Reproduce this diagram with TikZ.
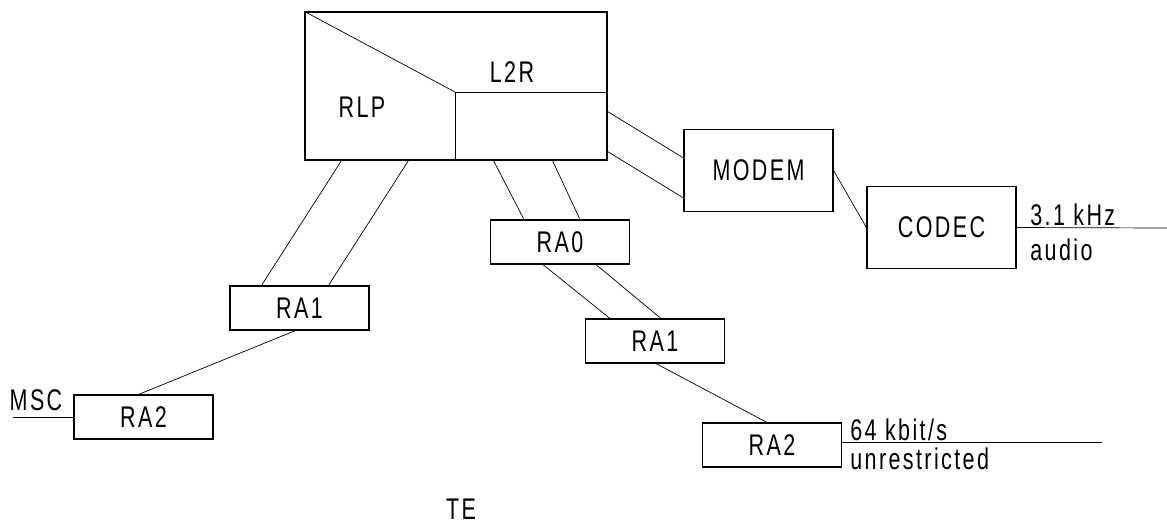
\documentclass[tikz,border=0pt]{standalone}
\usepackage{fontspec}
\setmainfont{Liberation Sans}[FakeStretch=0.72, LetterSpace=8]
\usepackage{tikz}
\usetikzlibrary{positioning}

\begin{document}
\begin{tikzpicture}[
		x=0.2mm, y=-0.2mm,
		every node/.style={font=\fontsize{17}{19}\selectfont},
		unit/.style={rectangle, draw, line width=0.6pt, minimum width=27.8mm, minimum height=8.8mm, inner sep=0pt},
		bigunit/.style={unit, minimum width=29.8mm, minimum height=16.4mm},
		tag/.style={inner sep=0pt},
		wire/.style={line width=0.4pt}
	]
  \useasboundingbox (0,0) rectangle (1167,524);
  \node (top) [unit, minimum width=60.4mm, minimum height=29.6mm] at (456, 86) {};
  \coordinate (mid) at (455, 92);
  \node (rlp) [tag] at (362, 107) {RLP};
  \node (l2r) [tag] at (512, 72) {L2R};
  \node (ra1a) [unit] at (299.5, 308) {RA1};
  \node (ra2a) [unit] at (143.5, 417) {RA2};
  \node (ra0) [unit] at (560, 242) {RA0};
  \node (ra1b) [unit] at (655, 341) {RA1};
  \node (ra2b) [unit] at (772, 445) {RA2};
  \node (modem) [bigunit] at (758.5, 170.5) {MODEM};
  \node (codec) [bigunit] at (941.5, 227.5) {CODEC};
  \node (msc) [tag] at (36, 400) {MSC};
  \node (khz) [tag, anchor=west] at (1030, 215) {3.1 kHz};
  \node (audio) [tag, anchor=west] at (1030, 250) {audio};
  \node (kbit) [tag, anchor=west] at (850, 430) {64 kbit/s};
  \node (unres) [tag, anchor=west] at (850, 459) {unrestricted};
  \node (te) [tag] at (461, 509) {TE};
  \coordinate (mscend) at (13, 417);
  \coordinate (audioend) at (1167, 228);
  \coordinate (rateend) at (1102, 442);
  % inside of the RLP / L2R block
  \draw [wire] (top.north west) -- (mid);
  \draw [wire] (mid) -- (mid -| top.east);
  \draw [wire] (mid) -- (mid |- top.south);
  % RLP side
  \draw [wire] ([xshift=7.4mm]top.south west) -- ([xshift=6.4mm]ra1a.north west);
  \draw [wire] ([xshift=20.8mm]top.south west) -- ([xshift=19.8mm]ra1a.north west);
  \draw [wire] ([xshift=13.2mm]ra1a.south west) -- ([xshift=13mm]ra2a.north west);
  \draw [wire] (mscend) -- (ra2a.west);
  % L2R side
  \draw [wire] ([xshift=37.8mm]top.south west) -- ([xshift=6.8mm]ra0.north west);
  \draw [wire] ([xshift=49.6mm]top.south west) -- ([xshift=18mm]ra0.north west);
  \draw [wire] ([xshift=10.6mm]ra0.south west) -- ([xshift=5mm]ra1b.north west);
  \draw [wire] ([xshift=21.2mm]ra0.south west) -- ([xshift=15.2mm]ra1b.north west);
  \draw [wire] ([xshift=14.2mm]ra1b.south west) -- ([xshift=13mm]ra2b.north west);
  \draw [wire] (ra2b.east |- rateend) -- (rateend);
  % modem path
  \draw [wire] ([yshift=-20mm]top.north east) -- ([yshift=-5.8mm]modem.north west);
  \draw [wire] ([yshift=-28mm]top.north east) -- ([yshift=-13.8mm]modem.north west);
  \draw [wire] (modem.east) -- (codec.west);
  \draw [wire] (codec.east) -- (audioend);
\end{tikzpicture}
\end{document}
